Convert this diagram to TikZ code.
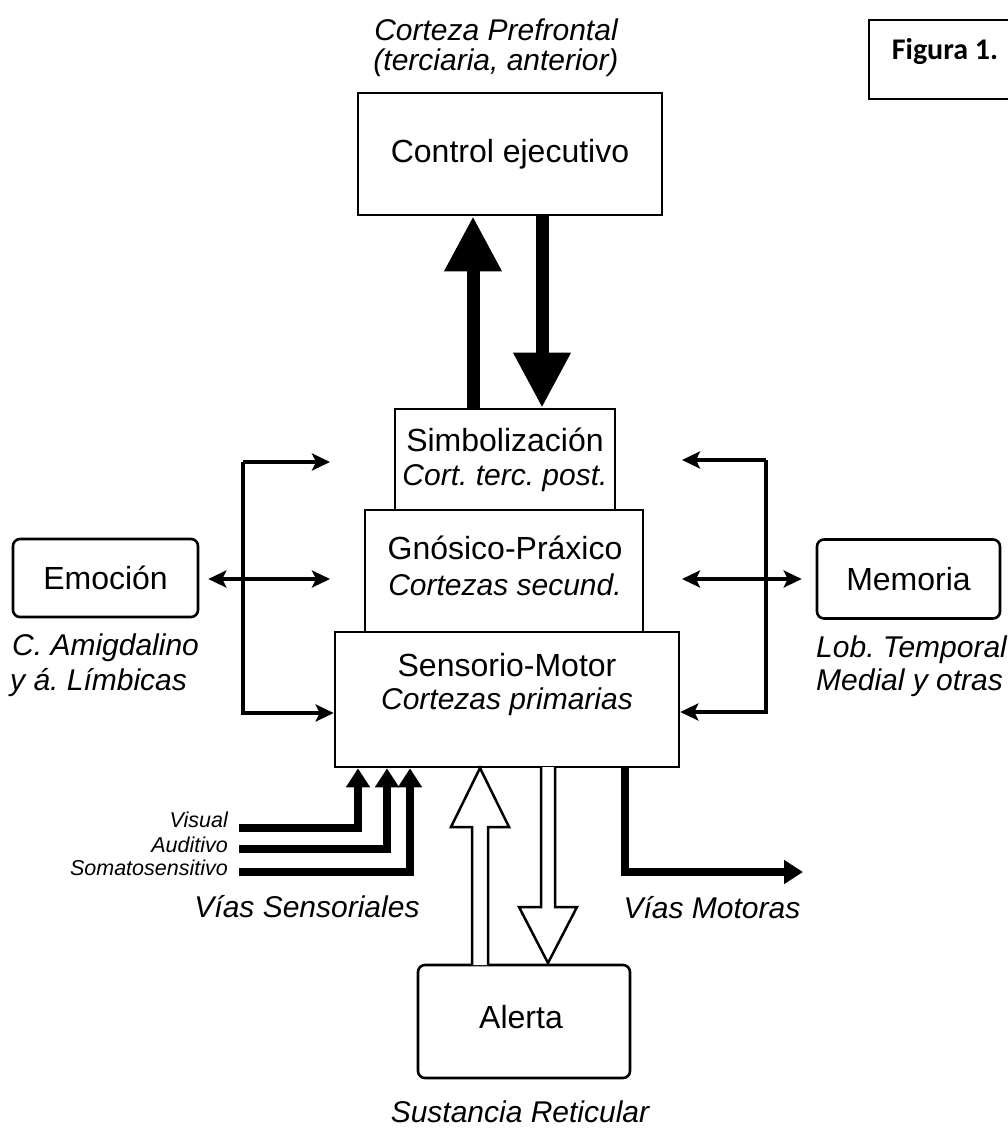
\documentclass[tikz,border=0pt]{standalone}
\usepackage{fontspec}
\setmainfont{Liberation Sans}
\newfontfamily\figfont{Carlito}
\usetikzlibrary{arrows.meta,calc}
\frenchspacing
\begin{document}
\begin{tikzpicture}[x=1pt,y=-1pt,
  box/.style={draw,line width=2.6pt,inner sep=0pt,font=\fontsize{32}{38}\selectfont},
  rbox/.style={box,rounded corners=7pt},
  title/.style={inner sep=0pt,font=\fontsize{32}{38}\selectfont},
  sub/.style={inner sep=0pt,font=\fontsize{30}{36}\selectfont\itshape},
  small/.style={inner sep=0pt,anchor=east,font=\fontsize{21.5}{24}\selectfont\itshape},
  link/.style={line width=4pt,-{Stealth[length=18pt,width=17pt,inset=4pt]}},
  dlink/.style={line width=4pt,{Stealth[length=18pt,width=17pt,inset=4pt]}-{Stealth[length=18pt,width=17pt,inset=4pt]}},
  big/.style={line width=13pt,-{Triangle[length=55pt,width=54pt]}},
  sline/.style={line width=8pt,line join=miter,-{Triangle[length=19pt,width=23pt]}},
  hollow/.style={draw,line width=2.5pt,fill=white,line join=miter}
]
\useasboundingbox (0,0) rectangle (1008,1129);

% Figura 1 box
\node[draw,line width=2.5pt,minimum width=146pt,minimum height=79pt,inner sep=0pt] (fig) at (942,59.5) {};
\node[inner sep=0pt,font=\figfont\bfseries\fontsize{30}{36}\selectfont] (figt) at (945,52) {Figura 1.};

% Control ejecutivo
\node[sub] (pf1) at (496,30) {Corteza Prefrontal};
\node[sub] (pf2) at (496,63) {(terciaria, anterior)};
\node[box,minimum width=304pt,minimum height=122pt] (ctrl) at (510,154) {Control ejecutivo};

% Stacked boxes
\node[box,minimum width=220pt,minimum height=101pt] (simb) at (505,459.5) {};
\node[title] (simbt) at (505,440) {Simbolización};
\node[sub] (simbs) at (505,478) {Cort. terc. post.};

\node[box,minimum width=278pt,minimum height=122pt] (gnos) at (504,571) {};
\node[title] (gnost) at (505,548) {Gnósico-Práxico};
\node[sub] (gnoss) at (505,585) {Cortezas secund.};

\node[box,minimum width=344pt,minimum height=135pt] (sens) at (507,699.5) {};
\node[title] (senst) at (507,665) {Sensorio-Motor};
\node[sub] (senss) at (507,702) {Cortezas primarias};

% Side boxes
\node[rbox,minimum width=185pt,minimum height=78pt] (emo) at (105.5,578) {Emoción};
\node[sub,anchor=west] (emo1) at (12,648) {C. Amigdalino};
\node[sub,anchor=west] (emo2) at (10,683) {y á. Límbicas};

\node[rbox,minimum width=183pt,minimum height=79pt] (mem) at (908.5,579) {Memoria};
\node[sub,anchor=west] (mem1) at (816,650) {Lob. Temporal};
\node[sub,anchor=west] (mem2) at (816,683) {Medial y otras};

% Alerta
\node[rbox,minimum width=212pt,minimum height=113pt] (alert) at (524,1021.5) {};
\node[title] (alertt) at (521,1017) {Alerta};
\node[sub] (alerts) at (520,1112) {Sustancia Reticular};

% Big arrows between control and simbolizacion
\draw[big] ($(simb.north)+(-32,0)$) -- ($(ctrl.south)+(-37,0)$);
\draw[big] ($(ctrl.south)+(32,0)$) -- ($(simb.north)+(37,0)$);

% Left bracket
\coordinate (lt) at (243,462);
\coordinate (lb) at (243,713);
\coordinate (ltip) at (330,462);
\coordinate (lmtip) at (330,579);
\draw[link] (lt) -- (ltip);
\draw[link,line join=miter] (lt) -- (lb) -- (lb -| sens.west);
\draw[dlink] ($(emo.east)+(9,1)$) -- (lmtip);

% Right bracket
\coordinate (rt) at (766,460);
\coordinate (rb) at (766,712);
\coordinate (rtip) at (682,460);
\coordinate (rmtip) at (682,579);
\draw[link] (rt) -- (rtip);
\draw[link,line join=miter] (rt) -- (rb) -- (rb -| sens.east);
\draw[dlink] (rmtip) -- ($(mem.west)+(-14,0)$);

% Sensory pathways
\node[small] (vis) at (228,820) {Visual};
\node[small] (aud) at (228,845) {Auditivo};
\node[small] (som) at (228,868) {Somatosensitivo};
\coordinate (s1) at (239,828);
\coordinate (s2) at (239,849);
\coordinate (s3) at (239,872);
\draw[sline] (s1) -- (358,828) -- (358,828 |- sens.south);
\draw[sline] (s2) -- (387,849) -- (387,849 |- sens.south);
\draw[sline] (s3) -- (410,872) -- (410,872 |- sens.south);
\node[sub] (vsen) at (307,907) {Vías Sensoriales};

% Motor pathway
\coordinate (mend) at (803,872);
\draw[sline] (sens.south -| 625,0) -- (625,872) -- (mend);
\node[sub] (vmot) at (712,908) {Vías Motoras};

% Hollow arrows (Alerta <-> Sensorio-Motor)
\draw[hollow] (472,965) -- (472,827) -- (451,827) -- (480,768) -- (509,827) -- (488,827) -- (488,965);
\draw[hollow] (541,767) -- (541,907) -- (519,907) -- (548,963) -- (577,907) -- (555,907) -- (555,767);
\end{tikzpicture}
\end{document}
